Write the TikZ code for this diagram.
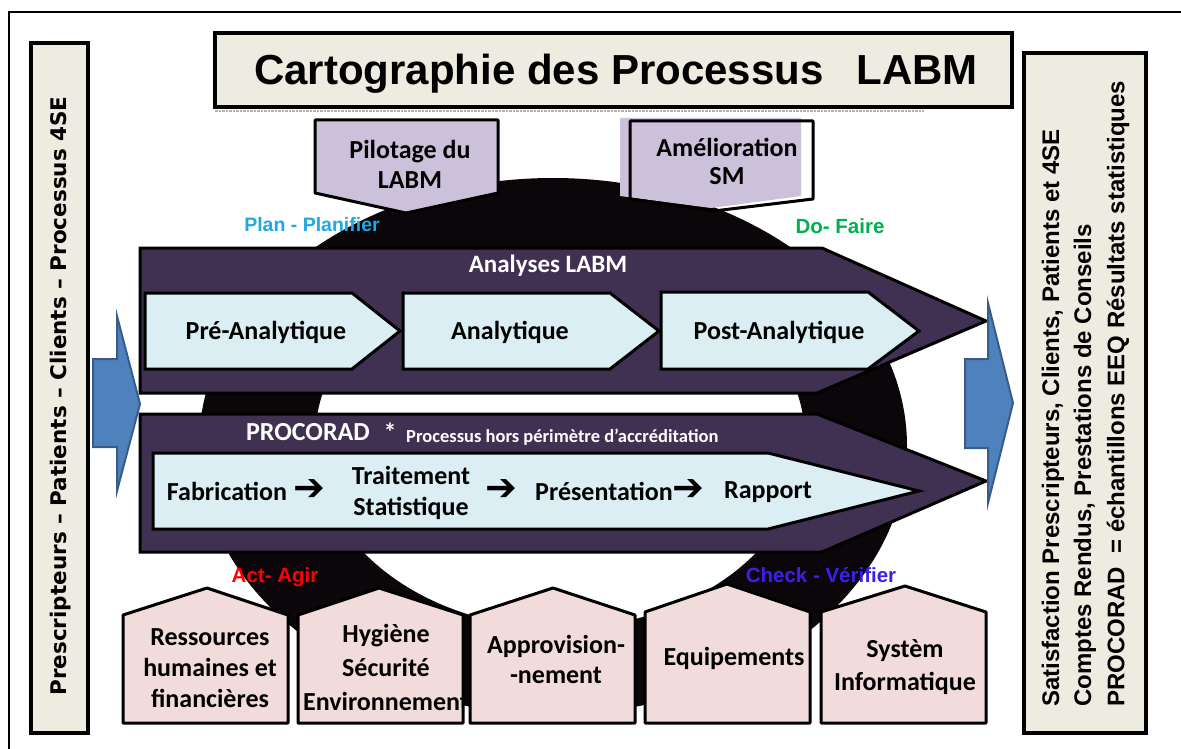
\documentclass[tikz,border=0pt]{standalone}
\usepackage{fontspec}
\setmainfont{Carlito}
\newfontfamily\arialfont{Liberation Sans}
\newfontfamily\dejafont{DejaVu Sans}
\usetikzlibrary{positioning}
\definecolor{boxbeige}{HTML}{EEECE1}
\definecolor{pilotlilac}{HTML}{CCC1DA}
\definecolor{arrowpurple}{HTML}{403152}
\definecolor{steplightblue}{HTML}{DBEEF4}
\definecolor{housepink}{HTML}{F2DCDB}
\definecolor{bluefill}{HTML}{4F81BD}
\definecolor{blueborder}{HTML}{385D8A}
\definecolor{plancyan}{HTML}{1EA9E1}
\definecolor{dogreen}{HTML}{00B050}
\definecolor{actred}{HTML}{FF0000}
\definecolor{checkblue}{HTML}{3B1FF2}
\definecolor{ringblack}{HTML}{0B0609}
\newcommand{\pxfont}[2]{\fontsize{#1}{#2}\selectfont}

\begin{document}
\begin{tikzpicture}[x=1pt, y=-1pt]
	\tikzstyle{sidebox} = [draw, line width=3.5pt, fill=boxbeige]
	\tikzstyle{pilotbox} = [draw, line width=3pt, fill=pilotlilac, line join=round]
	\tikzstyle{bigarrow} = [draw, line width=3pt, fill=arrowpurple]
	\tikzstyle{stepbox} = [draw, line width=3pt, fill=steplightblue]
	\tikzstyle{housebox} = [draw, line width=3pt, fill=housepink, line join=round]
	\tikzstyle{bluearrow} = [draw=blueborder, line width=2pt, fill=bluefill]
	\tikzstyle{steptext} = [inner sep=0pt, font=\bfseries\pxfont{26}{31}, align=center]
	\tikzstyle{pdcatext} = [inner sep=0pt, anchor=base, font=\arialfont\bfseries\pxfont{20.5}{24}]
	\tikzstyle{whitetext} = [inner sep=0pt, text=white, font=\bfseries\pxfont{25}{30}]
	\tikzstyle{sidetext} = [inner sep=0pt, rotate=90, font=\arialfont\bfseries\pxfont{24}{28}]
	\tikzstyle{flowarrow} = [inner sep=0pt, font=\dejafont\bfseries\pxfont{38}{40}]

	\useasboundingbox (0,0) rectangle (1181,749);

	% PDCA wheel behind the processes
	\fill[ringblack, even odd rule] (553,446) ellipse [x radius=354pt, y radius=268pt]
		(560,440) ellipse [x radius=245pt, y radius=188pt];
	\draw[line width=2pt] (9,749) -- (9,12) -- (1181,12);

	\draw[sidebox] (215,33) rectangle (1012,107);
	\draw[gray!60, densely dotted, line width=2.5pt] (215,111) -- (924,111);
	\node[inner sep=0pt, anchor=base, font=\arialfont\bfseries\pxfont{42}{48}] (title) at (616,85) {Cartographie des Processus\hspace{33pt}LABM};

	\draw[sidebox] (31,43) rectangle (88,733);
	\node[sidetext, font=\dejafont\bfseries\pxfont{21.5}{24}] (inputs) at (61,396) {Prescripteurs – Patients – Clients – Processus 4SE};

	\draw[sidebox] (1024,53) rectangle (1146,733);
	\node[sidetext, anchor=west] (outputs1) at (1053,707) {Satisfaction Prescripteurs, Clients, Patients et 4SE};
	\node[sidetext, anchor=west] (outputs2) at (1085,707) {Comptes Rendus, Prestations de Conseils};
	\node[sidetext, anchor=west] (outputs3) at (1118,707) {PROCORAD~~= échantillons EEQ Résultats statistiques};

	\draw[pilotbox] (315,120) -- (498,120) -- (498,193) -- (406,213) -- (315,193) -- cycle;
	\node[steptext, font=\bfseries\pxfont{26}{30}] (pilot) at (410,164) {Pilotage du\\LABM};
	\fill[pilotlilac] (620,118) -- (801,118) -- (801,196) -- (711,208) -- (620,196) -- cycle;
	\draw[line width=3pt, line join=round] (630,121) -- (813,121) -- (813,199) -- (714,211) -- (630,199) -- cycle;
	\node[steptext, font=\bfseries\pxfont{26}{28}] (improve) at (727,161) {Amélioration\\SM};

	\node[pdcatext, text=plancyan, font=\arialfont\bfseries\pxfont{19.5}{24}] (plan) at (312,231) {Plan - Planifier};
	\node[pdcatext, text=dogreen] (do) at (840,233) {Do- Faire};
	\node[pdcatext, text=actred] (act) at (275,582) {Act- Agir};
	\node[pdcatext, text=checkblue] (check) at (821,582) {Check - Vérifier};

	\draw[bigarrow] (140,248) -- (822,248) -- (986,321) -- (817,393) -- (140,393) -- cycle;
	\node[whitetext, anchor=base] (analyses) at (548,272) {Analyses LABM};
	\draw[stepbox] (145,293) -- (352,293) -- (400,331) -- (352,369) -- (145,369) -- cycle;
	\draw[stepbox] (403,293) -- (610,293) -- (659,331) -- (610,369) -- (403,369) -- cycle;
	\draw[stepbox] (661,292) -- (868,292) -- (919,331) -- (868,369) -- (661,369) -- cycle;
	\node[steptext, anchor=base] (pre) at (266,339) {Pré-Analytique};
	\node[steptext, anchor=base] (ana) at (510,339) {Analytique};
	\node[steptext, anchor=base] (post) at (779,339) {Post-Analytique};

	\draw[bigarrow] (140,414) -- (817,414) -- (986,481) -- (822,552) -- (140,552) -- cycle;
	\node[whitetext, anchor=base, font=\bfseries\pxfont{26}{30}] (procorad) at (308,440) {PROCORAD};
	\node[whitetext, font=\bfseries\pxfont{26}{30}] (star) at (390,432) {*};
	\node[whitetext, anchor=base west, font=\bfseries\pxfont{18.5}{22}] (outscope) at (406,442) {Processus hors périmètre d’accréditation};
	\draw[stepbox] (153,453) -- (768,453) -- (919,491) -- (768,529) -- (153,529) -- cycle;
	\node[steptext, anchor=base] (fab) at (227,500) {Fabrication};
	\node[flowarrow] (arr1) at (309,490) {➔};
	\node[steptext] (stat) at (411,493) {Traitement\\Statistique};
	\node[flowarrow] (arr2) at (501,490) {➔};
	\node[steptext, anchor=base] (pres) at (604,500) {Présentation};
	\node[flowarrow] (arr3) at (688,490) {➔};
	\node[steptext, anchor=base] (report) at (768,498) {Rapport};

	\draw[bluearrow] (93,359) -- (117,359) -- (117,316) -- (140,404) -- (117,491) -- (117,447) -- (93,447) -- cycle;
	\draw[bluearrow] (965,359) -- (988,359) -- (988,303) -- (1013,403) -- (988,503) -- (988,448) -- (965,448) -- cycle;

	\draw[housebox] (123,723) -- (123,615) -- (207,588) -- (288,615) -- (288,723) -- cycle;
	\node[steptext] (rh) at (210,668) {Ressources\\humaines et\\financières};
	\draw[housebox] (298,723) -- (298,615) -- (379,588) -- (463,615) -- (463,723) -- cycle;
	\begin{scope}
		\clip (298,723) -- (298,615) -- (379,588) -- (463,615) -- (463,723) -- cycle;
		\node[steptext, font=\bfseries\pxfont{26}{34}] (hse) at (386,667) {Hygiène\\Sécurité\\Environnement};
	\end{scope}
	\draw[housebox] (470,723) -- (470,615) -- (553,588) -- (635,615) -- (635,723) -- cycle;
	\node[steptext, font=\bfseries\pxfont{26}{30}] (supply) at (556,659) {Approvision-\\-nement};
	\draw[housebox] (645,723) -- (645,612) -- (727,584) -- (810,612) -- (810,723) -- cycle;
	\node[steptext, anchor=base] (equip) at (734,665) {Equipements};
	\draw[housebox] (821,723) -- (821,612) -- (905,586) -- (986,612) -- (986,723) -- cycle;
	\node[steptext, font=\bfseries\pxfont{26}{33}] (it) at (905,667) {Systèm\\Informatique};
\end{tikzpicture}
\end{document}
